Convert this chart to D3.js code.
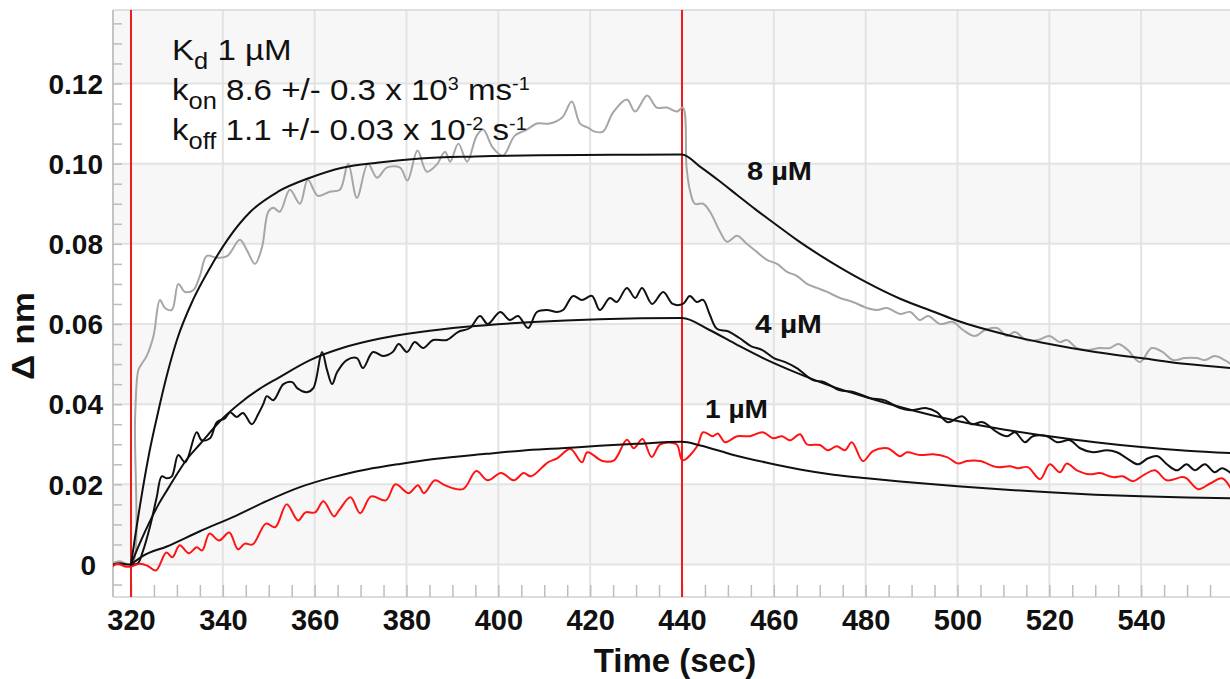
<!DOCTYPE html>
<html><head><meta charset="utf-8">
<script src="https://cdn.jsdelivr.net/npm/d3@7"></script>
<style>
body{margin:0;background:#fff}
svg{display:block}
text{font-family:"Liberation Sans",Arial,Helvetica,sans-serif;white-space:pre}
</style>
</head><body>
<svg id="chart" width="1230" height="679"></svg>
<script>
// ---------------- DATA ----------------
const yTickValues = [0, 0.02, 0.04, 0.06, 0.08, 0.10, 0.12];
const yTickLabels = ["0", "0.02", "0.04", "0.06", "0.08", "0.10", "0.12"];
const xTickValues = [320, 340, 360, 380, 400, 420, 440, 460, 480, 500, 520, 540];
const xTickLabels = ["320", "340", "360", "380", "400", "420", "440", "460", "480", "500", "520", "540"];
const injectionTimes = [320, 440];
const seriesLabels = ["8 µM", "4 µM", "1 µM"];
const xTitle = "Time (sec)";
const yTitle = "Δ nm";

// measured traces [time (s), response (nm)]
const data8uM = [[316.0,0.0003],[317.5,0.0008],[319,0.0002],[320.3,0.0],[320.9,0.037],[321.6,0.0485],[322.3,0.050],[323.4,0.052],[324.9,0.057],[326.3,0.066],[327.4,0.064],[328.9,0.0635],[330.3,0.070],[331.8,0.068],[333.6,0.0685],[335,0.072],[336.5,0.077],[338.7,0.0765],[341,0.077],[343.7,0.081],[345.2,0.0785],[347,0.075],[348.5,0.079],[349.9,0.088],[351,0.089],[352.4,0.088],[354.6,0.0935],[356.8,0.090],[358.5,0.096],[360.7,0.092],[363.3,0.093],[365.5,0.0935],[367.3,0.100],[369.2,0.0915],[371.6,0.100],[373.6,0.0965],[375.7,0.099],[378.6,0.099],[380.2,0.0958],[382.4,0.1033],[384.4,0.098],[386.6,0.0998],[388.4,0.103],[389.5,0.1005],[391.3,0.105],[393.2,0.1005],[395.3,0.107],[396.7,0.1085],[398.8,0.104],[401,0.102],[403.6,0.107],[406.2,0.1085],[408.4,0.110],[411.2,0.110],[413.9,0.1115],[416,0.1155],[417.8,0.110],[419.5,0.109],[421,0.108],[422.8,0.108],[425,0.1128],[428,0.116],[429.8,0.113],[432.4,0.117],[434.5,0.114],[436.7,0.114],[438.9,0.113],[440.2,0.114],[441,0.099],[441.7,0.0935],[442.8,0.090],[444.6,0.090],[446.1,0.088],[448.3,0.083],[449.8,0.0805],[452,0.082],[454.1,0.080],[456.3,0.078],[458.5,0.076],[460.7,0.075],[462.9,0.073],[465,0.072],[467.2,0.070],[469.4,0.069],[471.6,0.068],[474.4,0.0665],[477.2,0.0655],[480.3,0.064],[482.5,0.0635],[484.6,0.064],[487.5,0.0625],[489.7,0.063],[491.8,0.061],[493.6,0.062],[496.2,0.060],[499,0.0605],[501.2,0.0585],[503.8,0.057],[506,0.0585],[508.6,0.059],[510.8,0.057],[512.5,0.058],[515,0.056],[517.5,0.056],[520,0.057],[522.3,0.0555],[523.8,0.056],[526,0.054],[528.2,0.0535],[531,0.054],[533.2,0.054],[535,0.055],[537.1,0.0535],[539.7,0.0505],[542.3,0.054],[544.7,0.053],[546.9,0.051],[549.5,0.0515],[552.1,0.0515],[553.9,0.051],[556,0.052],[558.2,0.051],[559.5,0.050]];

const data4uM = [[316,0],[317.6,0.0003],[319.1,0],[320.1,0],[321.5,0.0003],[322.5,0.003],[324.1,0.0093],[325.6,0.0168],[326.7,0.022],[327.8,0.0215],[328.9,0.022],[330.3,0.0273],[331.8,0.0255],[334.3,0.033],[335.4,0.031],[337.2,0.0315],[338.7,0.0355],[340.5,0.0365],[341.6,0.038],[343,0.0368],[344.4,0.0378],[346.3,0.035],[347.7,0.0375],[348.8,0.040],[349.6,0.042],[351,0.041],[353.2,0.045],[355.1,0.0455],[356.2,0.044],[358.3,0.043],[359.7,0.044],[361.6,0.053],[362.7,0.0485],[363.8,0.045],[364.9,0.048],[367,0.051],[369.2,0.0515],[370.5,0.049],[372.7,0.053],[374.9,0.052],[377,0.053],[378.3,0.055],[380.1,0.053],[381.8,0.0555],[383.6,0.054],[385.8,0.056],[388.8,0.056],[391.2,0.058],[393.8,0.059],[396,0.062],[397.7,0.060],[400.4,0.063],[402.5,0.061],[404.3,0.062],[406.5,0.059],[408.4,0.063],[410.6,0.0635],[412.8,0.063],[414.1,0.0635],[416.3,0.067],[418.2,0.066],[420.4,0.067],[422.1,0.0635],[424.3,0.0665],[425.8,0.0655],[428,0.069],[429.8,0.0665],[431.3,0.069],[433.5,0.065],[435.9,0.068],[438,0.065],[440.2,0.065],[441.7,0.067],[443.2,0.0655],[444.6,0.066],[446,0.0625],[447.6,0.0588],[450,0.0582],[452.5,0.0565],[455,0.0545],[457.5,0.0535],[460,0.0515],[462.5,0.0505],[465,0.049],[468.5,0.046],[471,0.0455],[474.2,0.0435],[477.5,0.043],[481,0.0415],[484,0.041],[487.5,0.039],[489.7,0.0385],[493.3,0.039],[495.5,0.038],[497.9,0.0355],[501,0.037],[503.1,0.035],[505.5,0.0355],[508.6,0.033],[510.8,0.032],[512.5,0.033],[514.7,0.0305],[516.4,0.032],[519.5,0.032],[521.7,0.0305],[524.5,0.031],[526.7,0.029],[529.5,0.028],[532.5,0.0285],[534.7,0.028],[536.9,0.0265],[539.3,0.025],[541.5,0.0265],[543.6,0.027],[545.6,0.025],[547.8,0.0235],[549.9,0.025],[551.7,0.0235],[553.9,0.025],[556,0.023],[557.6,0.024],[559.5,0.0228]];

const data1uM = [[315.5,-0.001],[317,0.0002],[318.7,-0.0005],[320,-0.0005],[322,0.0002],[323.6,-0.0003],[325.4,-0.0015],[327.7,0.003],[329,0.0018],[330.6,0.0048],[332.6,0.0028],[334.3,0.0043],[335.5,0.0035],[337.1,0.0077],[339.2,0.006],[341.4,0.008],[343.3,0.0038],[344.8,0.0052],[346.5,0.005],[349.4,0.0102],[351.4,0.0093],[353.9,0.015],[356.4,0.011],[358,0.013],[360.1,0.013],[361.9,0.0158],[364.2,0.012],[365.3,0.0135],[367.8,0.0168],[369.9,0.0128],[372.3,0.017],[375.5,0.016],[377.6,0.020],[380.5,0.0178],[382.5,0.0198],[383.8,0.0178],[386.2,0.021],[388.3,0.0198],[392.3,0.0188],[395.2,0.0233],[397.7,0.021],[400.6,0.0228],[403.4,0.021],[405.5,0.0228],[407.1,0.022],[410.8,0.0255],[412.8,0.0265],[415.7,0.0288],[418.2,0.0255],[419.4,0.028],[422.7,0.0258],[425.2,0.026],[428,0.0311],[429.5,0.029],[431.4,0.0313],[433.4,0.0268],[435.3,0.030],[438.8,0.030],[440.1,0.026],[443.3,0.0295],[444.6,0.033],[446.7,0.032],[447.8,0.0327],[449.4,0.0305],[452,0.032],[454.8,0.032],[457.6,0.033],[459.8,0.0315],[461.8,0.032],[463.5,0.031],[465.7,0.0325],[467.2,0.030],[470,0.0298],[471.8,0.0285],[473.7,0.0295],[475.5,0.0285],[477,0.0305],[479.4,0.0258],[481.6,0.0283],[484.8,0.029],[487.5,0.027],[489,0.028],[491.8,0.0273],[494.7,0.0275],[497.7,0.0268],[500.1,0.0252],[502,0.0258],[504.9,0.0258],[508.6,0.0243],[511.4,0.0245],[513.2,0.024],[515.3,0.0243],[518,0.0213],[520.1,0.025],[522.3,0.023],[523.8,0.0252],[526,0.0235],[528.8,0.0225],[531,0.0228],[533.8,0.0218],[536,0.022],[538.2,0.0208],[540.8,0.0225],[543,0.0235],[545.6,0.021],[548.9,0.0218],[549.9,0.0215],[552.4,0.0188],[555,0.0202],[557.6,0.0215],[559.5,0.019]];

// fitted curves
const fit8uM = [[320,0],[322,0.015],[324,0.028],[325.7,0.037],[328,0.048],[330,0.056],[333.5,0.066],[337.2,0.074],[341,0.081],[346,0.088],[352,0.093],[359,0.0965],[366,0.099],[374,0.1003],[383,0.1013],[395,0.1018],[409,0.1021],[425,0.1022],[440,0.1023],[444,0.0992],[448,0.0958],[452,0.0922],[456,0.0886],[460,0.0852],[465,0.081],[470,0.0772],[475,0.0737],[480,0.0705],[487.5,0.0663],[495,0.063],[500,0.0608],[510,0.0575],[520,0.055],[530,0.053],[540,0.0515],[550,0.050],[559.5,0.049]];
const fit4uM = [[320,0],[322,0.0055],[324,0.0105],[326,0.015],[328,0.0188],[330,0.0225],[332,0.026],[335,0.030],[340,0.0365],[344,0.0405],[348,0.0438],[352,0.0465],[359,0.051],[366,0.054],[374,0.0563],[383,0.058],[393,0.0593],[407.6,0.0605],[422,0.0612],[440,0.0615],[446,0.0585],[452,0.0548],[458,0.0513],[465,0.0478],[472,0.0447],[480,0.0418],[487.5,0.0393],[500,0.0358],[510,0.0337],[520,0.032],[530,0.0305],[540,0.0293],[550,0.0284],[559.5,0.0278]];
const fit1uM = [[320,0],[322.7,0.0022],[327.8,0.0045],[335,0.0083],[342.3,0.0119],[349.5,0.0158],[356.8,0.0193],[364,0.0218],[371.3,0.0237],[378.6,0.0251],[386,0.0263],[397.3,0.0276],[405,0.0284],[413.7,0.029],[422,0.0296],[430,0.0301],[440,0.0306],[444,0.0297],[451,0.0274],[458.5,0.0254],[465.7,0.0237],[473,0.0224],[480.3,0.0215],[487.5,0.0207],[500,0.0195],[510,0.0187],[520,0.018],[530,0.0174],[540,0.017],[550,0.0167],[559.5,0.0165]];

// ---------------- CHART ----------------
const svg = d3.select("#chart");
const plot = {left: 113, right: 1230, top: 10, bottom: 597};
const x = d3.scaleLinear().domain([316.08, 559.35]).range([plot.left, plot.right]);
const y = d3.scaleLinear().domain([0, 0.12]).range([564.5, 83.5]);
const yTop = y.invert(plot.top);

svg.append("rect").attr("width", 1230).attr("height", 679).attr("fill", "#ffffff");

// alternating bands
const bandStarts = [0, 0.04, 0.08, 0.12];
svg.append("g").selectAll("rect").data(bandStarts).join("rect")
  .attr("x", plot.left).attr("width", plot.right - plot.left)
  .attr("y", d => y(Math.min(d + 0.02, yTop)))
  .attr("height", d => y(d) - y(Math.min(d + 0.02, yTop)))
  .attr("fill", "#f7f7f7");

// grid
const grid = svg.append("g").attr("stroke", "#e3e3e3").attr("stroke-width", 2);
grid.selectAll("line.h").data(yTickValues).join("line").attr("class", "h")
  .attr("x1", plot.left).attr("x2", plot.right).attr("y1", d => y(d)).attr("y2", d => y(d));
grid.selectAll("line.v").data(xTickValues).join("line").attr("class", "v")
  .attr("x1", d => x(d)).attr("x2", d => x(d)).attr("y1", plot.top).attr("y2", plot.bottom);

// frame
svg.append("line").attr("x1", plot.left).attr("x2", plot.right).attr("y1", plot.top).attr("y2", plot.top)
  .attr("stroke", "#d6d6d6").attr("stroke-width", 1.5);
svg.append("line").attr("x1", plot.left).attr("x2", plot.right).attr("y1", plot.bottom).attr("y2", plot.bottom)
  .attr("stroke", "#d0d0d0").attr("stroke-width", 1.5);
svg.append("line").attr("x1", plot.left).attr("x2", plot.left).attr("y1", plot.top).attr("y2", plot.bottom)
  .attr("stroke", "#c4c4c4").attr("stroke-width", 2);

// minor ticks
const yMinor = d3.range(-0.005, yTop, 0.005);
svg.append("g").attr("transform", `translate(${plot.left},0)`)
  .call(d3.axisLeft(y).tickValues(yMinor).tickSize(-9).tickFormat(""))
  .call(g => g.select(".domain").remove())
  .call(g => g.selectAll("line").attr("stroke", "#bdbdbd").attr("stroke-width", 1.5));
const xMinor = d3.range(320, 560, 5);
svg.append("g").attr("transform", `translate(0,${plot.bottom})`)
  .call(d3.axisBottom(x).tickValues(xMinor).tickSize(-12).tickFormat(""))
  .call(g => g.select(".domain").remove())
  .call(g => g.selectAll("line").attr("stroke", "#bdbdbd").attr("stroke-width", 1.5));

// tick labels
svg.append("g").attr("transform", `translate(${plot.left},0)`)
  .call(d3.axisLeft(y).tickValues(yTickValues).tickSize(0).tickPadding(10)
    .tickFormat((d, i) => yTickLabels[i]))
  .call(g => g.select(".domain").remove())
  .call(g => g.selectAll("text").attr("font-size", 28).attr("font-weight", "bold")
    .attr("font-family", "Liberation Sans, Arial, sans-serif").attr("fill", "#111")
    .attr("dy", "0.35em").attr("dx", (d, i) => i === 0 ? -7 : 0));
svg.append("g").attr("transform", `translate(0,${plot.bottom})`)
  .call(d3.axisBottom(x).tickValues(xTickValues).tickSize(0).tickPadding(12)
    .tickFormat((d, i) => xTickLabels[i]))
  .call(g => g.select(".domain").remove())
  .call(g => g.selectAll("text").attr("font-size", 29).attr("font-weight", "bold")
    .attr("font-family", "Liberation Sans, Arial, sans-serif").attr("fill", "#111"));

// axis titles
svg.append("text").attr("x", 675).attr("y", 672).attr("text-anchor", "middle")
  .attr("font-size", 33).attr("font-weight", "bold").attr("fill", "#111").text(xTitle);
const yt = svg.append("text").attr("text-anchor", "middle")
  .attr("font-size", 31).attr("font-weight", "bold").attr("fill", "#111").text(yTitle);
const ytScale = 88 / yt.node().getComputedTextLength();
yt.attr("transform", `translate(34,336) rotate(-90) scale(${ytScale},1)`);

// clip
svg.append("clipPath").attr("id", "clip").append("rect")
  .attr("x", plot.left).attr("y", plot.top).attr("width", plot.right - plot.left).attr("height", plot.bottom - plot.top);

// injection markers
svg.append("g").selectAll("line").data(injectionTimes).join("line")
  .attr("x1", d => x(d)).attr("x2", d => x(d)).attr("y1", plot.top).attr("y2", plot.bottom)
  .attr("stroke", "#ee1c1c").attr("stroke-width", 2);

const dataLine = d3.line().x(d => x(d[0])).y(d => y(d[1])).curve(d3.curveCatmullRom.alpha(0.5));
const fitLine = d3.line().x(d => x(d[0])).y(d => y(d[1])).curve(d3.curveMonotoneX);
const curves = svg.append("g").attr("clip-path", "url(#clip)").attr("fill", "none")
  .attr("stroke-linejoin", "round").attr("stroke-linecap", "round");
const traces = [
  {d: data8uM, c: "#a6a6a6", w: 2, fit: false},
  {d: data4uM, c: "#111111", w: 2, fit: false},
  {d: data1uM, c: "#ff1414", w: 2, fit: false},
  {d: fit8uM, c: "#111111", w: 2, fit: true},
  {d: fit4uM, c: "#111111", w: 2, fit: true},
  {d: fit1uM, c: "#111111", w: 2, fit: true}
];
curves.selectAll("path").data(traces).join("path")
  .attr("d", t => (t.fit ? fitLine : dataLine)(t.d)).attr("stroke", t => t.c).attr("stroke-width", t => t.w);

// annotation with kinetic constants
const annot = svg.append("g").attr("fill", "#111");
const annotLines = [
  {y: 60, parts: [["K", ""], ["d", "sub"], [" 1 µM", ""]]},
  {y: 100, parts: [["k", ""], ["on", "sub"], [" 8.6 +/- 0.3 x 10", ""], ["3", "sup"], [" ms", ""], ["-1", "sup"]]},
  {y: 140, parts: [["k", ""], ["off", "sub"], [" 1.1 +/- 0.03 x 10", ""], ["-2", "sup"], [" s", ""], ["-1", "sup"]]}
];
const annotX = 172;
const annotNodes = annotLines.map(L => {
  const t = annot.append("text").attr("x", annotX).attr("y", L.y).attr("font-size", 30);
  let shift = 0;
  L.parts.forEach(([s, kind]) => {
    const target = kind === "sub" ? 9 : kind === "sup" ? -10 : 0;
    t.append("tspan").attr("dy", target - shift)
      .attr("font-size", kind === "sub" ? 23 : kind === "sup" ? 18 : 30).text(s);
    shift = target;
  });
  return t;
});
const sAnnot = 358 / annotNodes[1].node().getComputedTextLength();
annotNodes.forEach(t => t.attr("transform", `translate(${annotX},0) scale(${sAnnot},1) translate(${-annotX},0)`));

// concentration labels
const labelPos = [{x: 747, y: 180, w: 65}, {x: 755, y: 333, w: 67}, {x: 705, y: 418, w: 63}];
seriesLabels.forEach((s, i) => {
  const p = labelPos[i];
  const t = svg.append("text").attr("x", p.x).attr("y", p.y).attr("font-size", 26)
    .attr("font-weight", "bold").attr("fill", "#111").text(s);
  const k = p.w / t.node().getComputedTextLength();
  t.attr("transform", `translate(${p.x},0) scale(${k},1) translate(${-p.x},0)`);
});
</script>
</body></html>
